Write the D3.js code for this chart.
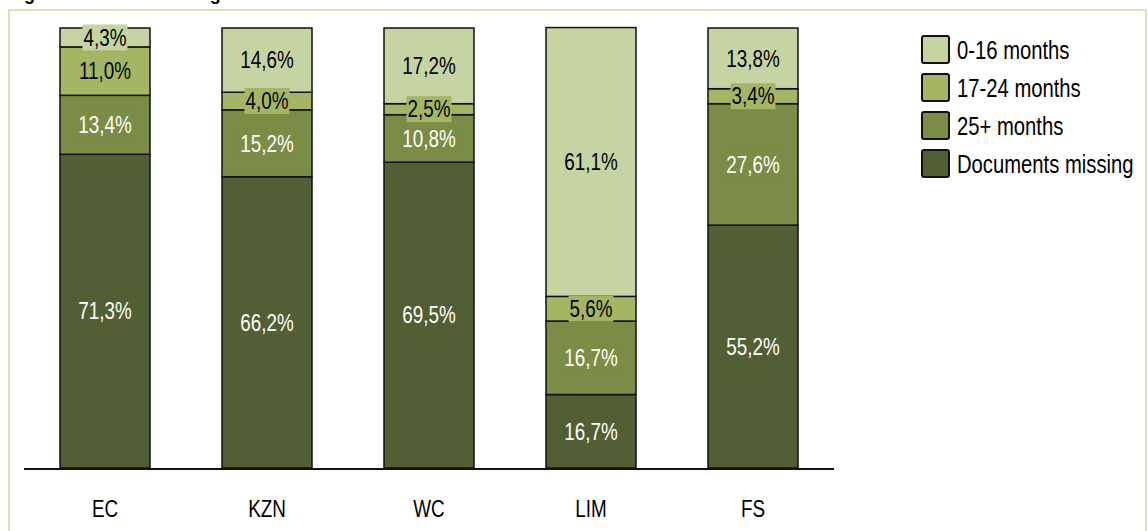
<!DOCTYPE html>
<html lang="en">
<head>
    <meta charset="UTF-8">
    <title>Duration by province</title>
    <script src="https://d3js.org/d3.v7.min.js"></script>
    <style>
        body { margin: 0; background: #fff; }
        text { font-family: "Liberation Sans", Arial, sans-serif; }
    </style>
</head>
<body>
    <div id="chart"></div>
    <script>
        // Data
        const provinces = ["EC", "KZN", "WC", "LIM", "FS"];
        const seriesNames = ["Documents missing", "25+ months", "17-24 months", "0-16 months"];
        const docsMissing = [71.3, 66.2, 69.5, 16.7, 55.2];
        const months25 = [13.4, 15.2, 10.8, 16.7, 27.6];
        const months17to24 = [11.0, 4.0, 2.5, 5.6, 3.4];
        const months0to16 = [4.3, 14.6, 17.2, 61.1, 13.8];
        const legendOrder = ["0-16 months", "17-24 months", "25+ months", "Documents missing"];

        const width = 1148, height = 531;
        const narrow = 0.82; // the original uses a condensed face

        // build table for d3.stack
        const table = provinces.map((p, i) => ({
            province: p,
            "Documents missing": docsMissing[i],
            "25+ months": months25[i],
            "17-24 months": months17to24[i],
            "0-16 months": months0to16[i]
        }));

        const color = d3.scaleOrdinal()
            .domain(seriesNames)
            .range(["#525e33", "#7a8c45", "#a4b663", "#c6d4a3"]);
        const textColor = d3.scaleOrdinal()
            .domain(seriesNames)
            .range(["#fff", "#fff", "#000", "#000"]);

        const x = d3.scaleBand()
            .domain(provinces)
            .range([24, 834])
            .paddingInner(72 / 162)
            .paddingOuter(36 / 162);

        const y = d3.scaleLinear()
            .domain([0, 100])
            .range([468, 28]);

        const svg = d3.select("#chart")
            .append("svg")
            .attr("width", width)
            .attr("height", height);

        // outer frame
        svg.append("rect")
            .attr("x", 9)
            .attr("y", 10)
            .attr("width", 1137)
            .attr("height", 540)
            .attr("fill", "none")
            .attr("stroke", "#d7e3bc")
            .attr("stroke-width", 2);

        // title, cut off by the top edge in the original
        svg.append("text")
            .attr("x", 8)
            .attr("y", 0)
            .attr("font-size", 18)
            .attr("font-weight", "bold")
            .text("Figure 5: Time taken to get the birth certificate");

        const stacked = d3.stack().keys(seriesNames)(table);

        const layers = svg.append("g")
            .selectAll("g")
            .data(stacked)
            .join("g")
            .attr("fill", d => color(d.key));

        layers.selectAll("rect")
            .data(d => d.map(v => Object.assign(v, { key: d.key })))
            .join("rect")
            .attr("x", d => x(d.data.province))
            .attr("y", d => y(d[1]))
            .attr("width", x.bandwidth())
            .attr("height", d => y(d[0]) - y(d[1]))
            .attr("stroke", "#111")
            .attr("stroke-width", 1.5);

        // value labels with a box in the segment colour
        const fmt = v => d3.format(".1f")(v).replace(".", ",") + "%";
        const labels = svg.append("g")
            .selectAll("g")
            .data(stacked.flatMap(s => s))
            .join("g")
            .attr("transform", d => `translate(${x(d.data.province) + x.bandwidth() / 2},${(y(d[0]) + y(d[1])) / 2})`);

        labels.append("rect")
            .attr("fill", d => color(d.key));

        labels.append("text")
            .attr("text-anchor", "middle")
            .attr("dy", "0.36em")
            .attr("font-size", 23)
            .attr("transform", `scale(${narrow},1)`)
            .attr("fill", d => textColor(d.key))
            .text(d => fmt(d[1] - d[0]));

        labels.each(function() {
            const t = d3.select(this).select("text").node();
            const w = t.getComputedTextLength() * narrow + 2;
            d3.select(this).select("rect")
                .attr("x", -w / 2)
                .attr("y", -13)
                .attr("width", w)
                .attr("height", 26);
        });

        // baseline
        svg.append("line")
            .attr("x1", x.range()[0])
            .attr("x2", x.range()[1])
            .attr("y1", y(0) + 1)
            .attr("y2", y(0) + 1)
            .attr("stroke", "#111")
            .attr("stroke-width", 2);

        // category labels
        svg.append("g")
            .selectAll("text")
            .data(provinces)
            .join("text")
            .attr("transform", d => `translate(${x(d) + x.bandwidth() / 2},517) scale(${narrow},1)`)
            .attr("text-anchor", "middle")
            .attr("font-size", 23)
            .text(d => d);

        // legend
        const legend = svg.append("g")
            .selectAll("g")
            .data(legendOrder)
            .join("g")
            .attr("transform", (d, i) => `translate(922,${36 + i * 38})`);

        legend.append("rect")
            .attr("width", 27)
            .attr("height", 27)
            .attr("rx", 2)
            .attr("fill", d => color(d))
            .attr("stroke", "#111")
            .attr("stroke-width", 2);

        legend.append("text")
            .attr("transform", `translate(35,14) scale(0.81,1)`)
            .attr("dy", "0.36em")
            .attr("font-size", 25)
            .text(d => d);
    </script>
</body>
</html>
